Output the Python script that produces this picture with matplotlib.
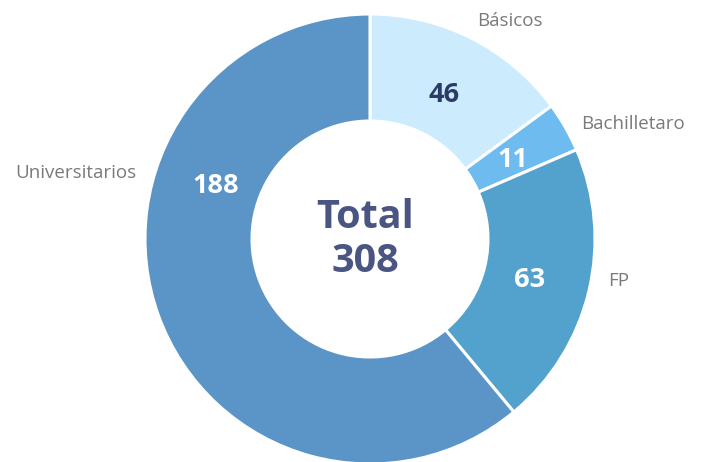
import numpy as np
import matplotlib.pyplot as plt

# datos
categorias = ['Básicos', 'Bachilletaro', 'FP', 'Universitarios']
valores = [46, 11, 63, 188]
colores = ['#CCEBFC', '#6EBBEF', '#52A2CD', '#5B95C7']
color_valor = ['#2B3A67', 'white', 'white', 'white']

W, H = 704, 462
fig = plt.figure(figsize=(W / 100, H / 100), dpi=100)
cx, cy, R = 370, 239, 225
ax = fig.add_axes([(cx - R) / W, (H - cy - R) / H, 2 * R / W, 2 * R / H])

wedges, textos = ax.pie(
    valores, colors=colores, startangle=90, counterclock=False, radius=1,
    wedgeprops=dict(width=1 - 118 / 225, edgecolor='white', linewidth=2.2),
)
ax.set_xlim(-1, 1)
ax.set_ylim(-1, 1)
ax.set_aspect('equal')
ax.axis('off')

# valores dentro del anillo (el de la porción grande va reflejado arriba)
for i, (w, v, c) in enumerate(zip(wedges, valores, color_valor)):
    mid = (w.theta1 + w.theta2) / 2
    if i == len(valores) - 1:
        mid = 360 - mid
    mid = np.deg2rad(mid)
    r = 0.73
    ax.text(r * np.cos(mid), r * np.sin(mid) - 0.012, str(v), ha='center', va='center',
            fontsize=19.5, fontweight='bold', color=c, family='Open Sans')

# etiquetas exteriores (posición en píxeles de la imagen)
pos_etiquetas = [(510, 21, 'center'), (581, 124, 'left'), (608, 281, 'left'), (136, 173, 'right')]
for nombre, (px, py, ha) in zip(categorias, pos_etiquetas):
    fig.text(px / W, 1 - py / H, nombre, ha=ha, va='center', fontsize=13.5,
             color='#7A7A7A', family='Open Sans')

ax.text(-0.02, 0.095, 'Total', ha='center', va='center', fontsize=28.5,
        fontweight='bold', color='#4B5582', family='Open Sans')
ax.text(-0.02, -0.1, str(sum(valores)), ha='center', va='center', fontsize=28.5,
        fontweight='bold', color='#4B5582', family='Open Sans')

fig.savefig('out.png', dpi=100)
